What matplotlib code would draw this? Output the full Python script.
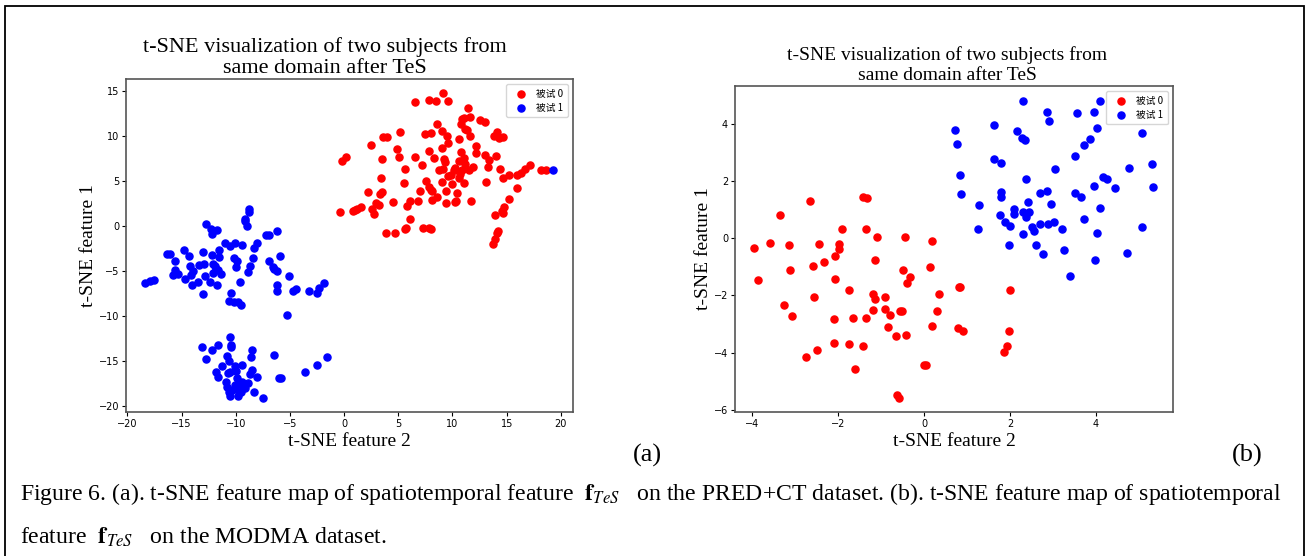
import matplotlib
matplotlib.use("Agg")
import matplotlib.pyplot as plt
from matplotlib.patches import Rectangle

plt.rcParams["mathtext.fontset"] = "stix"

# (a) PRED+CT
a_s0_x = [9.1, 6.5, 7.8, 8.5, 9.6, 11.4, 11.1, 10.9, 10.8, 11.2, 11.3, 11.6, 12.5, 13.0, 8.6, 9.0,
          9.5, 7.5, 8.0, 5.2, 3.6, 4.0, 10.6, 11.6, 9.6, 13.8, 14.1, 14.3, 14.7, 2.5, 12.2, 12.2,
          4.9, 7.8, 9.0, 10.8, 13.0, 14.0, 13.4, 0.2, -0.2, 3.5, 5.1, 6.5, 8.3, 9.2, 9.3, 10.6,
          11.1, 11.2, 10.2, 10.1, 7.2, 5.6, 8.8, 9.1, 11.9, 11.5, 13.3, 14.4, 9.9, 9.6, 10.7, 10.9,
          17.2, 16.7, 16.3, 16.0, 15.2, 14.7, 18.2, 18.6, 3.4, 7.6, 9.0, 10.0, 10.6, 5.5, 11.1, 13.1,
          16.0, 7.8, 8.0, 8.1, 2.2, 3.5, 3.3, 7.0, 9.4, 10.4, 15.2, 8.6, 8.1, 6.1, 6.8, 4.5,
          2.9, 3.2, 10.3, 10.2, 11.7, 9.4, 5.8, 1.6, 1.2, 1.0, 0.8, 2.6, 2.8, -0.4, 14.8, 14.6,
          14.7, 13.9, 6.1, 5.7, 5.6, 7.3, 7.8, 8.0, 3.9, 4.7, 14.2, 14.1, 13.9, 13.7]
a_s0_y = [14.7, 13.7, 14.0, 13.9, 13.8, 13.1, 12.0, 11.8, 11.3, 10.7, 10.6, 12.1, 11.7, 11.5, 11.3, 10.5,
          10.0, 10.2, 10.3, 10.4, 9.9, 9.9, 9.6, 10.0, 9.2, 10.0, 10.4, 9.7, 9.9, 9.0, 8.9, 8.1,
          8.5, 8.3, 8.6, 8.2, 7.9, 7.7, 7.3, 7.6, 7.2, 7.4, 7.6, 7.6, 7.5, 7.4, 7.1, 7.2,
          7.5, 6.9, 6.4, 6.2, 6.7, 6.3, 6.2, 6.3, 6.5, 6.2, 6.5, 6.3, 5.6, 5.5, 5.8, 6.2,
          6.7, 6.3, 5.9, 5.6, 5.6, 5.3, 6.2, 6.2, 5.3, 5.0, 4.9, 4.6, 5.3, 4.8, 4.7, 4.9,
          4.2, 4.3, 4.0, 3.9, 3.8, 3.7, 3.5, 3.9, 3.9, 3.6, 3.0, 3.2, 2.9, 2.8, 2.7, 2.6,
          2.5, 2.3, 2.8, 2.6, 2.8, 2.5, 2.2, 2.1, 1.9, 1.8, 1.6, 1.9, 1.3, 1.5, 2.1, 1.6,
          1.4, 1.2, 0.8, -0.2, -0.4, -0.3, -0.3, -0.4, -0.8, -0.8, -0.6, -0.8, -1.5, -2.0]

a_s1_x = [19.3, -8.8, -8.8, -9.1, -9.1, -9.0, -12.7, -12.3, -12.2, -11.7, -6.2, -7.2, -6.9, -11.0, -10.5,
          -10.1, -9.4, -8.0, -8.3, -14.8, -16.1, -16.3, -14.3, -15.6, -13.0, -12.2, -11.5, -11.5, -10.2,
          -9.9, -8.4, -5.9, -6.9, -6.6, -6.5, -6.2, -8.7, -8.9, -10.0, -13.4, -12.9, -13.9, -14.2,
          -14.1, -12.1, -11.9, -11.8, -12.1, -11.6, -11.4, -15.6, -15.8, -15.3, -14.7, -18.4, -17.9,
          -17.5, -13.5, -12.8, -12.4, -11.7, -14.0, -13.0, -9.6, -5.1, -6.2, -6.2, -4.7, -4.4, -3.2,
          -2.3, -1.9, -2.5, -10.4, -10.6, -10.2, -9.8, -9.5, -5.3,
          -10.5, -10.4, -10.4, -13.1, -12.2, -11.6, -8.5, -10.8, -10.6, -8.6, -6.5, -12.7, -11.3,
          -10.1, -9.4, -10.5, -10.0, -11.8, -8.5, -8.7, -10.7, -11.6, -9.9, -8.0, -10.9, -10.8,
          -10.6, -10.5, -10.1, -9.7, -9.4, -8.9, -9.1, -9.5, -9.8, -10.3, -10.0, -9.3, -8.3, -7.5,
          -3.6, -2.5, -1.6, -6.0, -5.8]
a_s1_y = [6.2, 1.9, 1.5, 0.7, 0.5, 0.0, 0.2, -0.4, -0.9, -0.5, -0.6, -1.0, -1.0, -1.9, -2.2,
          -1.9, -2.1, -1.9, -2.5, -2.7, -3.1, -3.1, -3.3, -3.9, -2.9, -3.2, -2.7, -3.5, -3.6,
          -3.9, -3.6, -3.4, -3.9, -4.6, -4.8, -5.0, -4.5, -5.1, -4.6, -4.4, -4.2, -5.0, -4.5,
          -5.5, -4.2, -4.5, -4.8, -5.2, -4.9, -5.4, -4.9, -5.5, -5.4, -5.9, -6.4, -6.1,
          -6.0, -6.2, -5.6, -6.2, -6.6, -6.6, -7.6, -6.2, -5.6, -6.6, -7.2, -7.2, -7.0, -7.2,
          -6.9, -6.4, -7.5, -7.5, -8.4, -8.5, -8.5, -8.8, -9.9,
          -12.3, -13.2, -13.4, -13.4, -13.8, -13.2, -13.8, -14.4, -15.0, -14.6, -14.3, -14.8, -15.6,
          -15.6, -15.5, -16.2, -16.1, -16.2, -16.0, -16.4, -16.3, -16.8, -16.9, -16.8, -17.3, -17.9,
          -18.5, -18.9, -17.7, -17.5, -17.3, -17.4, -18.0, -18.4, -18.9, -18.2, -18.1, -17.9, -18.4, -19.1,
          -16.2, -15.5, -14.6, -16.9, -16.9]

# (b) MODMA
b_s0_x = [-2.66, -3.36, -3.95, -3.59, -3.15, -3.86, -3.13, -3.26, -3.08, -2.44, -2.58, -2.33, -2.57,
          -1.43, -1.33, -1.91, -1.35, -1.99, -1.99, -2.08, -2.08, -1.09, -1.15, -1.75, -0.44, 0.18,
          0.14, -0.49, -0.33, -0.39, 0.35, -1.20, -1.15, -0.91, -0.90, -0.79, -2.10, -1.66, -1.35,
          -1.20, -0.55, -0.52, 0.30, -0.83, -0.66, -0.43, 0.19, -2.10, -1.74, -1.42, -2.49, -2.74,
          -1.60, 0.00, 0.05, -0.63, -0.59, 0.80, 0.83, 0.79, 0.91, 1.99, 1.97, 1.92, 1.86]
b_s0_y = [1.32, 0.81, -0.33, -0.18, -0.24, -1.47, -1.11, -2.34, -2.73, -0.20, -0.96, -0.82, -2.06,
          1.44, 1.40, 0.31, 0.34, -0.19, -0.38, -0.61, -1.44, 0.04, -0.77, -1.80, 0.04, -0.11,
          -1.02, -1.10, -1.37, -1.58, -1.94, -1.95, -2.14, -2.07, -2.48, -2.70, -2.84, -2.79, -2.78,
          -2.52, -2.56, -2.53, -2.55, -3.11, -3.43, -3.40, -3.06, -3.68, -3.69, -3.76, -3.90, -4.17,
          -4.58, -4.45, -4.45, -5.49, -5.60, -1.71, -1.69, -3.15, -3.25, -1.81, -3.25, -3.77, -3.97]

b_s1_x = [2.31, 2.86, 2.91, 3.56, 3.96, 4.09, 0.72, 0.76, 1.63, 2.17, 2.28, 2.35, 4.02, 3.85, 3.72,
          3.50, 5.08, 1.62, 1.80, 0.83, 0.86, 2.38, 3.04, 5.29, 4.76, 4.15, 4.25, 4.44, 5.33, 1.80,
          1.80, 1.28, 2.70, 2.86, 3.95, 3.50, 3.65, 2.41, 2.96, 2.08, 2.08, 1.76, 2.31, 2.45, 2.38,
          1.87, 2.00, 2.50, 2.55, 2.69, 2.89, 3.01, 3.20, 1.26, 2.29, 4.10, 3.71, 4.02, 5.07, 1.97,
          2.60, 2.77, 3.25, 4.73, 3.98, 3.39]
b_s1_y = [4.81, 4.43, 4.12, 4.40, 4.41, 4.81, 3.78, 3.30, 3.96, 3.77, 3.50, 3.44, 3.87, 3.47, 3.28,
          2.89, 3.70, 2.77, 2.65, 2.21, 1.56, 2.07, 2.42, 2.60, 2.46, 2.16, 2.09, 1.75, 1.79, 1.62,
          1.46, 1.16, 1.60, 1.65, 1.83, 1.60, 1.46, 1.27, 1.19, 1.04, 0.84, 0.80, 0.91, 0.92, 0.74,
          0.58, 0.43, 0.41, 0.24, 0.51, 0.50, 0.56, 0.32, 0.31, 0.15, 1.05, 0.66, 0.20, 0.38, -0.25,
          -0.24, -0.55, -0.41, -0.52, -0.76, -1.32]

labels = ["被试 0", "被试 1"]
title = "t-SNE visualization of two subjects from\nsame domain after TeS"
serif = "Liberation Serif"
cjk = ["Noto Sans CJK SC", "DejaVu Sans"]

fig = plt.figure(figsize=(13.09, 5.56), dpi=100)

ax1 = fig.add_axes([0.0963, 0.259, 0.3415, 0.599])
ax2 = fig.add_axes([0.5615, 0.259, 0.3346, 0.5863])

panels = [
    (ax1, a_s0_x, a_s0_y, a_s1_x, a_s1_y, (-20.12, 21.13), (-20.67, 16.3), 16, 1.15, 0.444),
    (ax2, b_s0_x, b_s0_y, b_s1_x, b_s1_y, (-4.40, 5.79), (-6.08, 5.33), 14, 1.3, 0.484),
]
for ax, x0, y0, x1, y1, xl, yl, tsize, tspace, tx in panels:
    ax.scatter(x0, y0, c="red", s=26, label=labels[0], zorder=3)
    ax.scatter(x1, y1, c="blue", s=26, label=labels[1], zorder=3)
    ax.set_xlim(*xl)
    ax.set_ylim(*yl)
    ax.set_title(title, fontfamily=serif, fontsize=tsize, linespacing=tspace, pad=4, x=tx)
    ax.set_xlabel("t-SNE feature 2", fontfamily=serif, fontsize=14, labelpad=3)
    ax.set_ylabel("t-SNE feature 1", fontfamily=serif, fontsize=14, labelpad=1)
    ax.tick_params(labelsize=7, length=3, width=0.8, pad=2)
    for sp in ax.spines.values():
        sp.set_color("#555555")
        sp.set_linewidth(1.2)
    ax.legend(loc="upper right", prop={"family": cjk, "size": 7}, handletextpad=0.6,
              borderpad=0.5, labelspacing=0.4, framealpha=0.8)

fig.text(647 / 1309, 1 - 455 / 556, "(a)", fontfamily=serif, fontsize=19, ha="center", va="center")
fig.text(1247 / 1309, 1 - 455 / 556, "(b)", fontfamily=serif, fontsize=19, ha="center", va="center")

cap1 = (r"Figure 6. (a). t-SNE feature map of spatiotemporal feature  $\mathbf{f}_{TeS}$"
        r"   on the PRED+CT dataset. (b). t-SNE feature map of spatiotemporal")
cap2 = r"feature  $\mathbf{f}_{TeS}$   on the MODMA dataset."
fig.text(20 / 1309, 1 - 494 / 556, cap1, fontfamily=serif, fontsize=17.1, va="center")
fig.text(20 / 1309, 1 - 537 / 556, cap2, fontfamily=serif, fontsize=17.1, va="center")

# page border around the figure block
fig.patches.append(Rectangle((5 / 1309, -0.02), 1299 / 1309, 1.02 - 6 / 556,
                             transform=fig.transFigure, fill=False, edgecolor="black", lw=1.3))

fig.savefig("out.png", dpi=100)
